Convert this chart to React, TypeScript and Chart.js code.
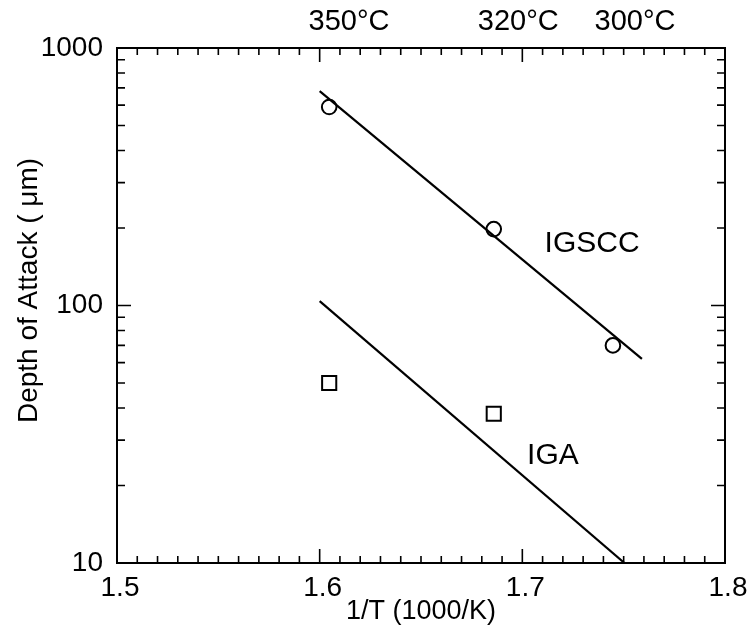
import React, { useEffect, useRef } from 'react';
import { Chart, registerables } from 'chart.js';
Chart.register(...registerables);

// ---- data ----
const igsccX = [1.6047, 1.6859, 1.7447];
const igsccY = [590, 198, 70];
const igaX = [1.6047, 1.6859];
const igaY = [50, 38];
const igsccFitX = [1.6, 1.759];
const igsccFitY = [680, 62];
const igaFitX = [1.6, 1.7504];
const igaFitY = [104, 10];

const xTickValues = [1.5, 1.6, 1.7, 1.8];
const yTickValues = [10, 100, 1000];
const tempLabels = ['350°C', '320°C', '300°C'];
const tempLabelX = [1.6145, 1.698, 1.7556];
const seriesLabels = ['IGSCC', 'IGA'];
const seriesLabelX = [1.7344, 1.7151];
const seriesLabelY = [173, 26.2];
const yTitle = 'Depth of Attack ( μm)';
const xTitle = '1/T (1000/K)';

const FONT = "'Liberation Sans', Arial, Helvetica, sans-serif";

function xMinor(): number[] {
  const out: number[] = [];
  for (let i = 0; i <= 30; i++) out.push(+(1.5 + i * 0.01).toFixed(2));
  return out;
}
function yMinor(): number[] {
  const out: number[] = [];
  for (const d of [10, 100]) for (let m = 2; m <= 9; m++) out.push(m * d);
  return out;
}

const framePlugin = {
  id: 'frame',
  afterDatasetsDraw(chart: any) {
    const { ctx, chartArea: a, scales } = chart;
    const xs = scales.x, ys = scales.y;
    ctx.save();
    ctx.strokeStyle = '#000';
    ctx.lineWidth = 2;
    ctx.strokeRect(a.left, a.top, a.right - a.left, a.bottom - a.top);
    ctx.lineWidth = 1.6;
    ctx.beginPath();
    for (const v of xMinor()) {
      const major = xTickValues.some((t) => Math.abs(t - v) < 1e-6);
      const len = major ? 14 : 7;
      const px = xs.getPixelForValue(v);
      ctx.moveTo(px, a.bottom); ctx.lineTo(px, a.bottom - len);
      ctx.moveTo(px, a.top); ctx.lineTo(px, a.top + len);
    }
    const yAll = [...yTickValues.map((v) => [v, 14]), ...yMinor().map((v) => [v, 8])];
    for (const [v, len] of yAll) {
      const py = ys.getPixelForValue(v);
      ctx.moveTo(a.left, py); ctx.lineTo(a.left + len, py);
      ctx.moveTo(a.right, py); ctx.lineTo(a.right - len, py);
    }
    ctx.stroke();

    ctx.fillStyle = '#000';
    ctx.textAlign = 'center';
    ctx.textBaseline = 'middle';
    ctx.font = `29px ${FONT}`;
    tempLabels.forEach((t, i) => {
      ctx.fillText(t, xs.getPixelForValue(tempLabelX[i]), 22);
    });
    ctx.font = `30px ${FONT}`;
    seriesLabels.forEach((t, i) => {
      ctx.fillText(t, xs.getPixelForValue(seriesLabelX[i]), ys.getPixelForValue(seriesLabelY[i]));
    });
    // y axis title
    ctx.font = `28px ${FONT}`;
    ctx.translate(29, (a.top + a.bottom) / 2 - 15);
    ctx.rotate(-Math.PI / 2);
    ctx.fillText(yTitle, 0, 0);
    ctx.restore();
  },
};

export default function App() {
  const ref = useRef<HTMLCanvasElement | null>(null);
  useEffect(() => {
    document.body.style.margin = '0';
    if (!ref.current) return;
    const pts = (xs: number[], ys: number[]) => xs.map((x, i) => ({ x, y: ys[i] }));
    const chart = new Chart(ref.current, {
      type: 'scatter',
      data: {
        datasets: [
          {
            type: 'line',
            label: 'IGSCC fit',
            data: pts(igsccFitX, igsccFitY),
            borderColor: '#000',
            borderWidth: 2.2,
            pointRadius: 0,
            showLine: true,
          } as any,
          {
            type: 'line',
            label: 'IGA fit',
            data: pts(igaFitX, igaFitY),
            borderColor: '#000',
            borderWidth: 2.2,
            pointRadius: 0,
            showLine: true,
          } as any,
          {
            label: 'IGSCC',
            data: pts(igsccX, igsccY),
            pointStyle: 'circle',
            pointRadius: 7.3,
            borderColor: '#000',
            backgroundColor: 'rgba(0,0,0,0)',
            borderWidth: 2,
          },
          {
            label: 'IGA',
            data: pts(igaX, igaY),
            pointStyle: 'rect',
            pointRadius: 10,
            borderColor: '#000',
            backgroundColor: 'rgba(0,0,0,0)',
            borderWidth: 2,
          },
        ],
      },
      options: {
        responsive: false,
        animation: false,
        layout: { padding: { top: 48, right: 27, left: 0, bottom: 0 } },
        plugins: { legend: { display: false }, tooltip: { enabled: false } },
        scales: {
          x: {
            type: 'linear',
            min: 1.5,
            max: 1.8,
            afterBuildTicks: (s: any) => { s.ticks = xTickValues.map((v) => ({ value: v })); },
            afterFit: (s: any) => {
              s.height = 75;
              s.paddingLeft = 0; s.paddingRight = 0; s.paddingTop = 0; s.paddingBottom = 0;
            },
            grid: { display: false, drawTicks: false },
            border: { display: false },
            ticks: {
              color: '#000',
              font: { family: FONT, size: 28 },
              padding: 8,
              labelOffset: 3,
              maxRotation: 0,
              autoSkip: false,
              callback: (v: any) => Number(v).toFixed(1),
            },
            title: {
              display: true,
              text: xTitle,
              color: '#000',
              font: { family: FONT, size: 27 },
              padding: { top: 0, bottom: 10 },
            },
          },
          y: {
            type: 'logarithmic',
            min: 10,
            max: 1000,
            afterBuildTicks: (s: any) => { s.ticks = yTickValues.map((v) => ({ value: v })); },
            afterFit: (s: any) => {
              s.width = 117;
              s.paddingLeft = 0; s.paddingRight = 0; s.paddingTop = 0; s.paddingBottom = 0;
            },
            grid: { display: false, drawTicks: false },
            border: { display: false },
            ticks: {
              color: '#000',
              font: { family: FONT, size: 28 },
              padding: 14,
              autoSkip: false,
              callback: (v: any) => String(v),
            },
            title: { display: false },
          },
        },
      },
      plugins: [framePlugin],
    });
    return () => chart.destroy();
  }, []);
  return (
    <div style={{ width: 752, height: 638, background: '#fff' }}>
      <canvas ref={ref} width={752} height={638} />
    </div>
  );
}
